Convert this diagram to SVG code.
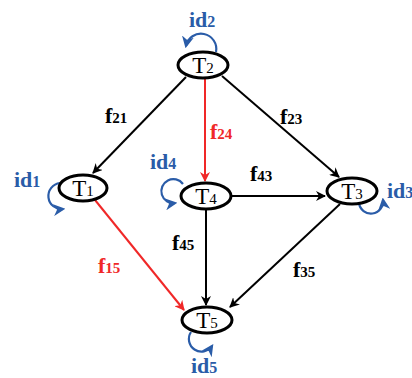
<svg xmlns="http://www.w3.org/2000/svg" width="412" height="378" viewBox="0 0 412 378">
<defs>
<marker id="ak" viewBox="0 0 10 10" refX="9" refY="5" markerWidth="10" markerHeight="10" orient="auto" markerUnits="userSpaceOnUse"><path d="M0,0 L10,5 L0,10 L3,5 Z" fill="#000"/></marker>
<marker id="ar" viewBox="0 0 10 10" refX="9" refY="5" markerWidth="10" markerHeight="10" orient="auto" markerUnits="userSpaceOnUse"><path d="M0,0 L10,5 L0,10 L3,5 Z" fill="#f02828"/></marker>
<marker id="ab" viewBox="0 0 10 10" refX="8" refY="5" markerWidth="12" markerHeight="12" orient="auto" markerUnits="userSpaceOnUse"><path d="M0,0 L10,5 L0,10 L3,5 Z" fill="#2a5ca8"/></marker>
</defs>
<style>
.n ellipse{fill:#fff;stroke:#000;stroke-width:3}
.n text{font-family:"Liberation Serif",serif;font-size:23px;fill:#000;text-anchor:middle}
.e{stroke:#000;stroke-width:2;fill:none;marker-end:url(#ak)}
.r{stroke:#f02828;stroke-width:2;fill:none;marker-end:url(#ar)}
.l{stroke:#2a5ca8;stroke-width:2.2;fill:none;marker-end:url(#ab)}
.f{font-family:"Liberation Serif",serif;font-weight:bold;font-size:22px;fill:#000}
.fr{fill:#f02828}
.id{font-family:"Liberation Serif",serif;font-weight:bold;font-size:22px;fill:#2a5ca8}
</style>
<g id="edges">
<line class="e" x1="186" y1="77" x2="93" y2="173"/>
<line class="r" x1="205" y1="79" x2="205" y2="181"/>
<line class="e" x1="222" y1="76" x2="339" y2="177"/>
<line class="e" x1="231" y1="196" x2="325" y2="196"/>
<line class="e" x1="206" y1="210" x2="206" y2="305"/>
<line class="e" x1="340" y1="204" x2="230" y2="307"/>
<line class="r" x1="95" y1="200" x2="184" y2="310"/>
<path class="l" d="M216,52 A12,12 0 1 0 186,46"/>
<path class="l" d="M60,183 A12,12 0 1 0 63,209"/>
<path class="l" d="M183,184 A12,12 0 1 0 175,203"/>
<path class="l" d="M359,203 A11,11 0 1 0 383,200"/>
<path class="l" d="M191,332 A12,12 0 0 0 212,346"/>
</g>
<g id="T2" class="n"><ellipse cx="203" cy="65" rx="25" ry="13"/><text x="203" y="73">T<tspan font-size="15">2</tspan></text></g>
<g id="T1" class="n"><ellipse cx="83" cy="188" rx="24" ry="13"/><text x="83" y="196">T<tspan font-size="15">1</tspan></text></g>
<g id="T4" class="n"><ellipse cx="206" cy="196" rx="25" ry="13"/><text x="206" y="204">T<tspan font-size="15">4</tspan></text></g>
<g id="T3" class="n"><ellipse cx="352" cy="191" rx="25" ry="13"/><text x="352" y="199">T<tspan font-size="15">3</tspan></text></g>
<g id="T5" class="n"><ellipse cx="207" cy="320" rx="25" ry="13"/><text x="207" y="328">T<tspan font-size="15">5</tspan></text></g>
<g id="labels">
<text class="f" x="105" y="123">f<tspan font-size="15">21</tspan></text>
<text class="f fr" x="210" y="139">f<tspan font-size="15">24</tspan></text>
<text class="f" x="280" y="124">f<tspan font-size="15">23</tspan></text>
<text class="f" x="250" y="181">f<tspan font-size="15">43</tspan></text>
<text class="f" x="172" y="250">f<tspan font-size="15">45</tspan></text>
<text class="f fr" x="98" y="273">f<tspan font-size="15">15</tspan></text>
<text class="f" x="293" y="277">f<tspan font-size="15">35</tspan></text>
<text class="id" x="189" y="27">id<tspan font-size="16">2</tspan></text>
<text class="id" x="14" y="187">id<tspan font-size="16">1</tspan></text>
<text class="id" x="150" y="169">id<tspan font-size="16">4</tspan></text>
<text class="id" x="387" y="198">id<tspan font-size="16">3</tspan></text>
<text class="id" x="191" y="373">id<tspan font-size="16">5</tspan></text>
</g>
</svg>
